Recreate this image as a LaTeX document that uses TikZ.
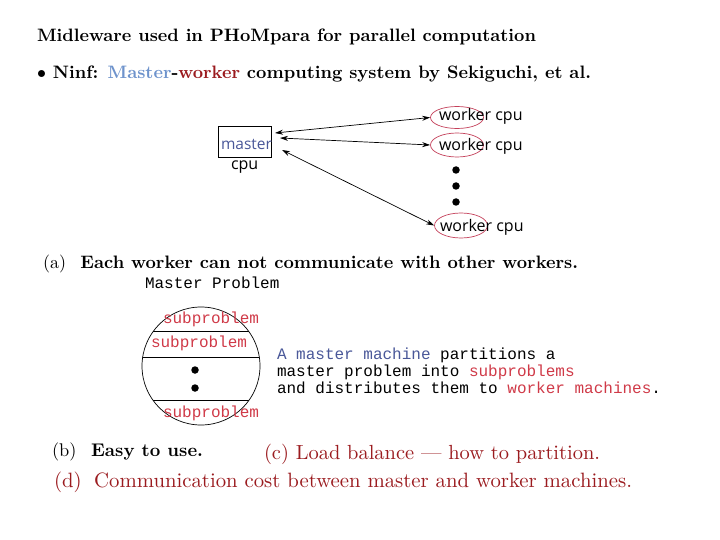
\documentclass[tikz,border=0pt]{standalone}
\usepackage{fontspec}
\usepackage{graphicx}
\newfontfamily\sansf{Open Sans}
\setmonofont{Liberation Mono}
\usetikzlibrary{arrows.meta,shapes.geometric}
\definecolor{mblue}{HTML}{6E93CC}
\definecolor{dred}{HTML}{9B1B1F}
\definecolor{tblue}{HTML}{4A5899}
\definecolor{tred}{HTML}{D03A48}
\definecolor{ered}{HTML}{C4405A}
\newcommand\fitto[2]{\resizebox{#1pt}{!}{#2}}
\begin{document}
\begin{tikzpicture}[x=1pt,y=-1pt,
  txt/.style={anchor=base west, inner sep=0, outer sep=0},
  sanstxt/.style={txt, font=\sansf\fontsize{16}{19}\selectfont},
  tttxt/.style={txt, font=\ttfamily\fontsize{16}{19}\selectfont},
  arr/.style={{Stealth[length=8pt,width=5pt]}-{Stealth[length=8pt,width=5pt]}, line width=0.7pt},
  redell/.style={draw=ered, ellipse, minimum width=53pt, minimum height=22pt, inner sep=0, line width=0.7pt},
  blob/.style={circle, fill=black, minimum size=7.5pt, inner sep=0}]
\useasboundingbox (0,0) rectangle (720,540);
\fill[white] (0,0) rectangle (720,540);

% header
\node[txt] (title) at (37,42) {\fitto{499}{\bfseries Midleware used in PHoMpara for parallel computation}};
\node[txt] (ninf) at (37,79) {\fitto{554}{\bfseries $\bullet$ Ninf: \textcolor{mblue}{Master}-\textcolor{dred}{worker} computing system by Sekiguchi, et al.}};

% master / workers
\node[draw, line width=0.7pt, minimum width=53pt, minimum height=31pt, inner sep=0] (master) at (245,141.5) {};
\node[sanstxt, text=tblue, font=\sansf\fontsize{15.5}{18}\selectfont] (mastertxt) at (221,150) {master};
\node[sanstxt] (cpu) at (231,170) {cpu};

\node[redell] (w1) at (457,117.5) {};
\node[sanstxt] (w1t) at (439,121) {worker cpu};
\node[redell, minimum height=24pt] (w2) at (457,145) {};
\node[sanstxt] (w2t) at (439,151) {worker cpu};
\node[redell, minimum height=25pt] (w3) at (461,225.5) {};
\node[sanstxt] (w3t) at (440,232) {worker cpu};

\coordinate (m1) at (275,133);
\coordinate (m2) at (280,138);
\coordinate (m3) at (282,150);
\draw[arr] (m1) -- (w1.west);
\draw[arr] (m2) -- (w2.west);
\draw[arr] (m3) -- (w3.west);

\node[blob] (d1) at (456,170) {};
\node[blob] (d2) at (456,186) {};
\node[blob] (d3) at (456,202) {};

% item a
\node[txt] (itema) at (43,268) {\fitto{535}{(a)\hspace{0.8em}\textbf{Each worker can not communicate with other workers.}}};

% master problem
\node[tttxt] (mp) at (145,288) {Master Problem};
\node[draw, circle, minimum size=118pt, inner sep=0, line width=0.7pt] (circ) at (201,366) {};
\begin{scope}
  \clip (201,366) circle (59);
  \draw[line width=0.7pt] (130,331) -- (270,331);
  \draw[line width=0.7pt] (130,357) -- (270,357);
  \draw[line width=0.7pt] (130,400) -- (270,400);
\end{scope}
\node[tttxt, text=tred] (s1) at (163,323) {subproblem};
\node[tttxt, text=tred] (s2) at (151,347) {subproblem};
\node[tttxt, text=tred] (s3) at (163,417) {subproblem};
\node[blob] (c1) at (195,370) {};
\node[blob] (c2) at (195,388) {};

\node[tttxt] (r1) at (277,359) {\textcolor{tblue}{A master machine} partitions a};
\node[tttxt] (r2) at (277,376) {master problem into \textcolor{tred}{subproblems}};
\node[tttxt] (r3) at (277,393) {and distributes them to \textcolor{tred}{worker machines}.};

% items b c d
\node[txt] (itemb) at (52,456) {\fitto{151}{(b)\hspace{0.8em}\textbf{Easy to use.}}};
\node[txt, text=dred] (itemc) at (264,459) {\fitto{336}{(c) Load balance --- how to partition.}};
\node[txt, text=dred] (itemd) at (54,487) {\fitto{578}{(d)\hspace{0.6em}Communication cost between master and worker machines.}};
\end{tikzpicture}
\end{document}
